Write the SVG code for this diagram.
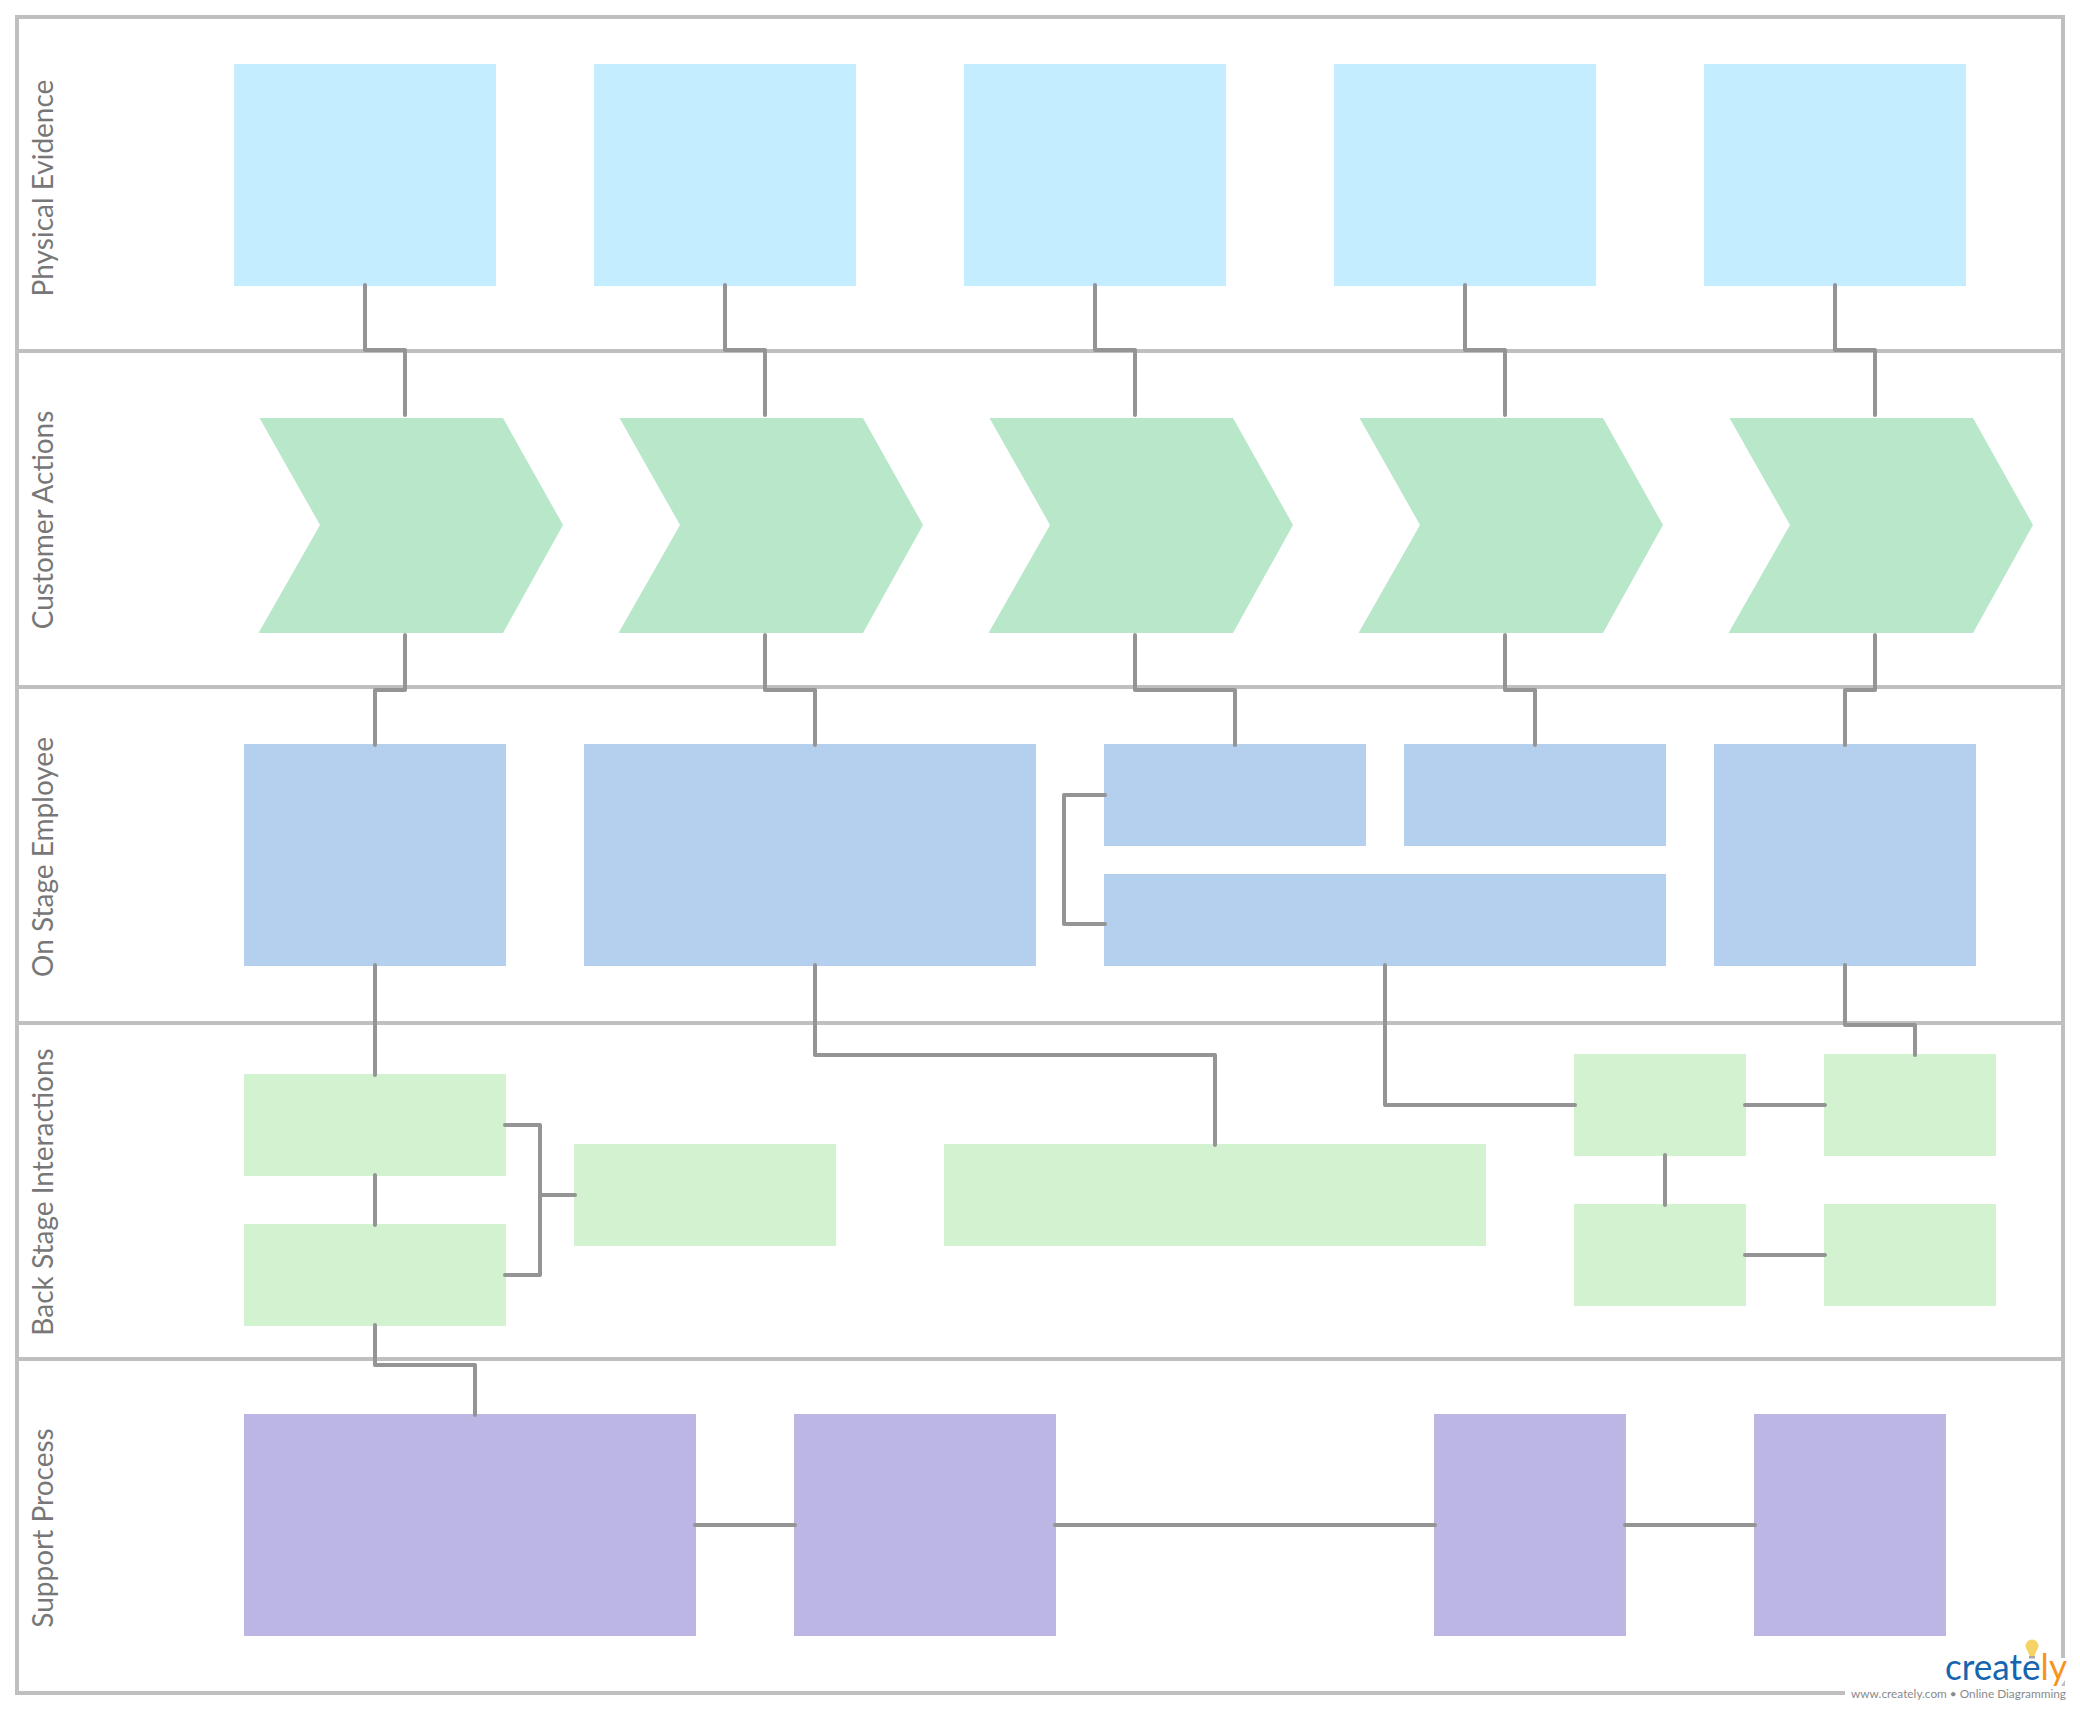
<svg xmlns="http://www.w3.org/2000/svg" width="2080" height="1710" viewBox="0 0 2080 1710">
<style>
.frame{fill:none;stroke:#bfbfbf;stroke-width:4}
.conn{fill:none;stroke:#949494;stroke-width:4;stroke-linecap:round;stroke-linejoin:round}
.ev{fill:#c4edff}.act{fill:#b9e7ca}.on{fill:#b5d0ef}.back{fill:#d3f2d0}.sup{fill:#bcb6e4}
.lane{font-family:Lato,"Liberation Sans",sans-serif;font-size:28px;fill:#777;text-anchor:middle}
</style>
<rect width="2080" height="1710" fill="#fff"/>
<g id="frame">
<rect class="frame" x="17" y="17" width="2046" height="1676"/>
<path class="frame" d="M17 351H2063M17 687H2063M17 1023H2063M17 1359H2063"/>
</g>
<g id="lanes">
<text class="lane" transform="translate(53 188) rotate(-90)">Physical Evidence</text>
<text class="lane" transform="translate(53 520) rotate(-90)">Customer Actions</text>
<text class="lane" transform="translate(53 857) rotate(-90)">On Stage Employee</text>
<text class="lane" transform="translate(53 1192) rotate(-90)">Back Stage Interactions</text>
<text class="lane" transform="translate(53 1528) rotate(-90)">Support Process</text>
</g>
<g id="evidence">
<rect id="e1" class="ev" x="234" y="64" width="262" height="222"/>
<rect id="e2" class="ev" x="594" y="64" width="262" height="222"/>
<rect id="e3" class="ev" x="964" y="64" width="262" height="222"/>
<rect id="e4" class="ev" x="1334" y="64" width="262" height="222"/>
<rect id="e5" class="ev" x="1704" y="64" width="262" height="222"/>
</g>
<g id="actions">
<polygon id="a1" class="act" points="259.500,418 503,418 563,525 503,633 258.500,633 320,525"/>
<polygon id="a2" class="act" points="619.500,418 863,418 923,525 863,633 618.500,633 680,525"/>
<polygon id="a3" class="act" points="989.500,418 1233,418 1293,525 1233,633 988.500,633 1050,525"/>
<polygon id="a4" class="act" points="1359.500,418 1603,418 1663,525 1603,633 1358.500,633 1420,525"/>
<polygon id="a5" class="act" points="1729.500,418 1973,418 2033,525 1973,633 1728.500,633 1790,525"/>
</g>
<g id="onstage">
<rect id="o1" class="on" x="244" y="744" width="262" height="222"/>
<rect id="o2" class="on" x="584" y="744" width="452" height="222"/>
<rect id="o3" class="on" x="1104" y="744" width="262" height="102"/>
<rect id="o4" class="on" x="1404" y="744" width="262" height="102"/>
<rect id="o5" class="on" x="1104" y="874" width="562" height="92"/>
<rect id="o6" class="on" x="1714" y="744" width="262" height="222"/>
</g>
<g id="backstage">
<rect id="b1" class="back" x="244" y="1074" width="262" height="102"/>
<rect id="b2" class="back" x="244" y="1224" width="262" height="102"/>
<rect id="b3" class="back" x="574" y="1144" width="262" height="102"/>
<rect id="b4" class="back" x="944" y="1144" width="542" height="102"/>
<rect id="b5" class="back" x="1574" y="1054" width="172" height="102"/>
<rect id="b6" class="back" x="1824" y="1054" width="172" height="102"/>
<rect id="b7" class="back" x="1574" y="1204" width="172" height="102"/>
<rect id="b8" class="back" x="1824" y="1204" width="172" height="102"/>
</g>
<g id="support">
<rect id="s1" class="sup" x="244" y="1414" width="452" height="222"/>
<rect id="s2" class="sup" x="794" y="1414" width="262" height="222"/>
<rect id="s3" class="sup" x="1434" y="1414" width="192" height="222"/>
<rect id="s4" class="sup" x="1754" y="1414" width="192" height="222"/>
</g>
<g id="connectors" class="conn">
<path d="M365 285V350H405V415"/>
<path d="M725 285V350H765V415"/>
<path d="M1095 285V350H1135V415"/>
<path d="M1465 285V350H1505V415"/>
<path d="M1835 285V350H1875V415"/>
<path d="M405 635V690H375V745"/>
<path d="M765 635V690H815V745"/>
<path d="M1135 635V690H1235V745"/>
<path d="M1505 635V690H1535V745"/>
<path d="M1875 635V690H1845V745"/>
<path d="M1105 795H1064V924H1105"/>
<path d="M375 965V1075"/>
<path d="M375 1175V1225"/>
<path d="M375 1325V1365H475V1415"/>
<path d="M505 1125H540V1275H505"/>
<path d="M540 1195H575"/>
<path d="M815 965V1055H1215V1145"/>
<path d="M1385 965V1105H1575"/>
<path d="M1745 1105H1825"/>
<path d="M1745 1255H1825"/>
<path d="M1665 1155V1205"/>
<path d="M1845 965V1025H1915V1055"/>
<path d="M695 1525H795"/>
<path d="M1055 1525H1435"/>
<path d="M1625 1525H1755"/>
</g>
<g id="logo">
<rect x="1845" y="1658" width="225" height="45" fill="#fff"/>
<polygon points="2065,1680 2065,1686 2061,1686" fill="#bfbfbf"/>
<circle cx="2032" cy="1646" r="6.500" fill="#f6d365"/>
<polygon points="2027,1649 2037,1649 2034.500,1656 2029.500,1656" fill="#f6d365"/>
<rect x="2029" y="1656" width="6" height="2.500" fill="#aaa"/>
<text x="1945" y="1680" font-family="Lato,'Liberation Sans',sans-serif" font-size="36" fill="#1565b0" textLength="122" lengthAdjust="spacingAndGlyphs">create<tspan fill="#f7941e">ly</tspan></text>
<text x="1851" y="1698" font-family="Lato,'Liberation Sans',sans-serif" font-size="11.500" fill="#8a8a8a" textLength="215" lengthAdjust="spacingAndGlyphs">www.creately.com • Online Diagramming</text>
</g>
</svg>
